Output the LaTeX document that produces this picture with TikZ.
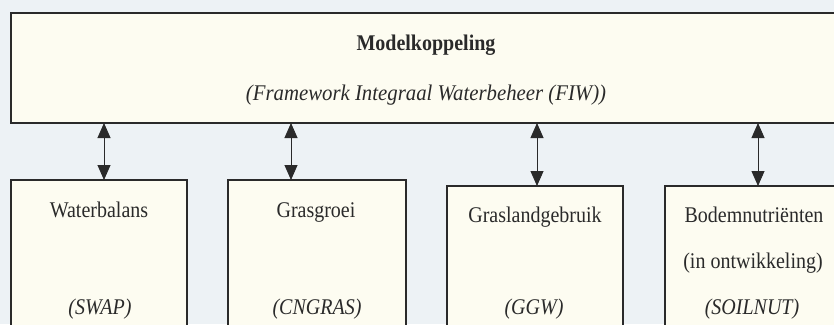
\documentclass[tikz,border=0pt]{standalone}
\usepackage{fontspec}
\setmainfont{Liberation Serif}
\usetikzlibrary{arrows.meta}
\definecolor{bgc}{HTML}{EDF2F5}
\definecolor{boxc}{HTML}{FDFCF1}
\definecolor{inkc}{HTML}{2A2A2A}

\begin{document}
\begin{tikzpicture}[x=1pt,y=-1pt,
  module/.style={draw=inkc, line width=1.3pt, fill=boxc, rectangle,
    anchor=north west, inner sep=0pt, outer sep=0pt},
  lbl/.style={text=inkc, font=\fontsize{20}{24}\selectfont, inner sep=0pt,
    anchor=base, yscale=1.12},
  link/.style={draw=inkc, line width=0.9pt, {Triangle[width=13pt,length=15pt]}-{Triangle[width=13pt,length=15pt]}}]
\useasboundingbox (0,0) rectangle (834,324);
\clip (0,0) rectangle (834,324);
\fill[bgc] (0,0) rectangle (834,324);

% coupling framework
\node[module, minimum width=830pt, minimum height=110pt] (fiw) at (11,13) {};
\node[lbl] (fiwname) at (426,50) {\textbf{Modelkoppeling}};
\node[lbl, xscale=1.04] (fiwsub) at (426,100) {\textit{(Framework Integraal Waterbeheer (FIW))}};

% modules
\node[module, minimum width=176pt, minimum height=170pt] (swap) at (11,180) {};
\node[module, minimum width=178pt, minimum height=170pt] (cngras) at (228,180) {};
\node[module, minimum width=176pt, minimum height=170pt] (ggw) at (447,186) {};
\node[module, minimum width=180pt, minimum height=170pt] (soil) at (665,186) {};

\node[lbl] (swapname) at (99,217) {Waterbalans};
\node[lbl] (swapcode) at (100,314) {\textit{(SWAP)}};
\node[lbl] (cngrasname) at (316,217) {Grasgroei};
\node[lbl] (cngrascode) at (317,314) {\textit{(CNGRAS)}};
\node[lbl] (ggwname) at (535,222) {Graslandgebruik};
\node[lbl] (ggwcode) at (534,314) {\textit{(GGW)}};
\node[lbl] (soilname) at (754,222) {Bodemnutriënten};
\node[lbl] (soilnote) at (753,268) {(in ontwikkeling)};
\node[lbl] (soilcode) at (752,314) {\textit{(SOILNUT)}};

% two-way links
\coordinate (l1) at (104,0);
\coordinate (l2) at (291,0);
\coordinate (l3) at (537,0);
\coordinate (l4) at (758,0);
\draw[link] (fiw.south -| l1) -- (swap.north -| l1);
\draw[link] (fiw.south -| l2) -- (cngras.north -| l2);
\draw[link] (fiw.south -| l3) -- (ggw.north -| l3);
\draw[link] (fiw.south -| l4) -- (soil.north -| l4);
\end{tikzpicture}
\end{document}
